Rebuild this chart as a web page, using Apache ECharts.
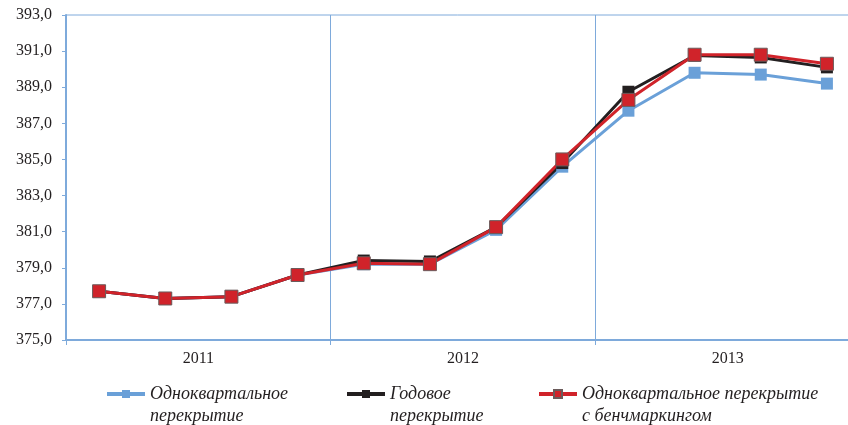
<!DOCTYPE html>
<html>
<head>
<meta charset="UTF-8" />
<title>Перекрытие</title>
<script src="https://cdn.jsdelivr.net/npm/echarts@6/dist/echarts.min.js"></script>
<style>
  html, body { margin: 0; padding: 0; background: #fff; }
  #chart { width: 848px; height: 425px; }
</style>
</head>
<body>
<div id="chart"></div>
<script>
// кварталы 2011-2013
var quarters = ['2011 I', '2011 II', '2011 III', '2011 IV',
                '2012 I', '2012 II', '2012 III', '2012 IV',
                '2013 I', '2013 II', '2013 III', '2013 IV'];
var years = ['2011', '2012', '2013'];

var seriesNames = [
    'Одноквартальное\nперекрытие',
    'Годовое\nперекрытие',
    'Одноквартальное перекрытие\nс бенчмаркингом'
];
var singleQuarter = [377.7, 377.3, 377.4, 378.6, 379.2, 379.2, 381.1, 384.6, 387.7, 389.8, 389.7, 389.2];
var yearly        = [377.7, 377.3, 377.4, 378.6, 379.4, 379.35, 381.25, 384.8, 388.75, 390.75, 390.65, 390.1];
var benchmarked   = [377.7, 377.3, 377.4, 378.6, 379.25, 379.2, 381.25, 385.0, 388.3, 390.8, 390.8, 390.3];

var axisColor = '#7eaadb';
var colors = ['#6aa0d8', '#231f20', '#d0232a'];
var serif = '"Liberation Serif", "DejaVu Serif", serif';

var chart = echarts.init(document.getElementById('chart'));

// одна легенда на каждую серию, чтобы поставить их как в оригинале
function makeLegend(name, left) {
    return {
        data: [name],
        left: left,
        top: 356,
        itemWidth: 38,
        itemHeight: 10,
        itemGap: 0,
        selectedMode: false,
        lineStyle: { width: 4 },
        // пустая первая строка: иконка встаёт против первой строки подписи
        formatter: function (n) { return '\n' + n; },
        textStyle: {
            fontFamily: serif,
            fontStyle: 'italic',
            fontSize: 18,
            color: '#231f20',
            lineHeight: 22
        }
    };
}

var option = {
    animation: false,
    color: colors,
    grid: {
        left: 66,
        top: 15,
        width: 794,
        height: 325,
        outerBoundsMode: 'none',
        containLabel: false,
        show: true,
        borderColor: axisColor,
        borderWidth: 1
    },
    legend: [
        makeLegend(seriesNames[0], 100),
        makeLegend(seriesNames[1], 340),
        makeLegend(seriesNames[2], 532)
    ],
    xAxis: [
        {
            type: 'category',
            data: quarters,
            boundaryGap: true,
            axisLine: { lineStyle: { color: axisColor, width: 2 } },
            axisTick: {
                show: true,
                length: 5,
                interval: function (i) { return i % 4 === 0; },
                lineStyle: { color: axisColor }
            },
            axisLabel: { show: false },
            splitLine: {
                show: true,
                interval: function (i) { return i % 4 === 0; },
                lineStyle: { color: axisColor, width: 1 }
            }
        },
        {
            type: 'category',
            data: years,
            position: 'bottom',
            boundaryGap: true,
            axisLine: { show: false },
            axisTick: { show: false },
            splitLine: { show: false },
            axisLabel: {
                margin: 11,
                fontFamily: serif,
                fontSize: 16,
                color: '#231f20'
            }
        }
    ],
    yAxis: {
        type: 'value',
        min: 375,
        max: 393,
        interval: 2,
        axisLine: { show: true, lineStyle: { color: axisColor, width: 2 } },
        axisTick: { show: true, length: 4, lineStyle: { color: axisColor } },
        splitLine: { show: false },
        axisLabel: {
            margin: 14,
            fontFamily: serif,
            fontSize: 16,
            color: '#231f20',
            formatter: function (v) { return v.toFixed(1).replace('.', ','); }
        }
    },
    series: [
        {
            name: seriesNames[0],
            type: 'line',
            data: singleQuarter,
            symbol: 'rect',
            symbolSize: 12,
            lineStyle: { width: 3 },
            itemStyle: { color: colors[0] }
        },
        {
            name: seriesNames[1],
            type: 'line',
            data: yearly,
            symbol: 'rect',
            symbolSize: 12,
            lineStyle: { width: 3 },
            itemStyle: { color: colors[1] }
        },
        {
            name: seriesNames[2],
            type: 'line',
            data: benchmarked,
            symbol: 'rect',
            symbolSize: 13,
            lineStyle: { width: 3 },
            itemStyle: { color: colors[2], borderColor: '#6b5b5b', borderWidth: 1 }
        }
    ]
};

chart.setOption(option);
</script>
</body>
</html>
